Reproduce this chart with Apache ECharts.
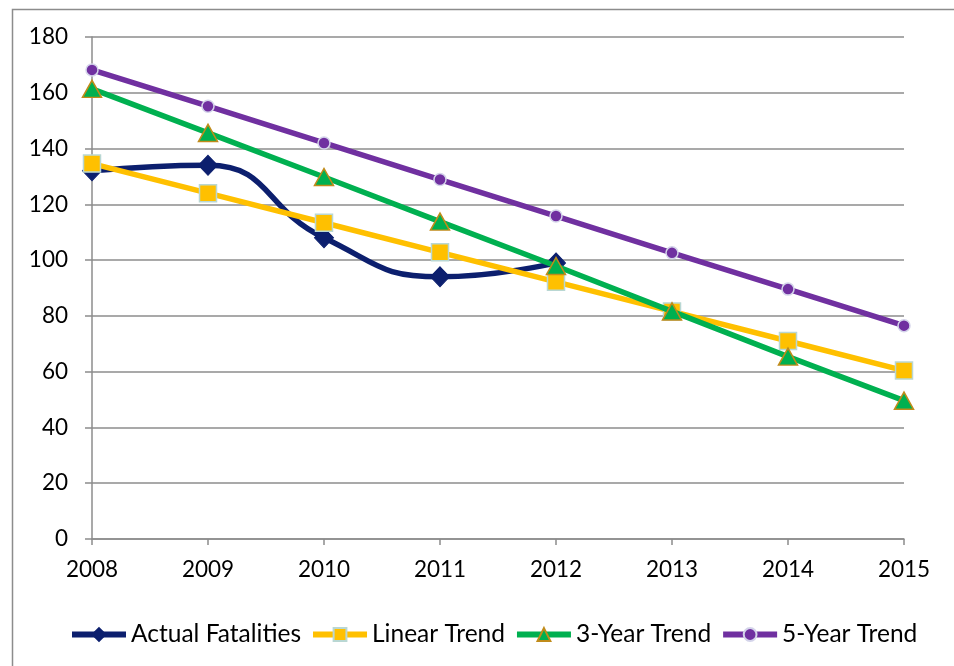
<!DOCTYPE html>
<html>
<head>
<meta charset="utf-8">
<script src="https://cdn.jsdelivr.net/npm/echarts@6/dist/echarts.min.js"></script>
<style>
  html, body { margin: 0; padding: 0; background: #fff; }
  #chart { width: 954px; height: 666px; }
</style>
</head>
<body>
<div id="chart"></div>
<script>
// Traffic fatalities, actual counts and projected trends
const years = ['2008', '2009', '2010', '2011', '2012', '2013', '2014', '2015'];
const actualFatalities = [132, 134, 108, 94, 99];
const linearTrend = [134.6, 124, 113.4, 102.8, 92.2, 81.6, 71, 60.4];
const threeYearTrend = [161.4, 145.6, 129.8, 113.8, 97.9, 81.6, 65.4, 49.6];
const fiveYearTrend = [168.2, 155.2, 142, 128.9, 115.8, 102.6, 89.6, 76.5];
const yTicks = { min: 0, max: 180, step: 20 };

const FONT = 'Lato, "Open Sans", sans-serif';
const chart = echarts.init(document.getElementById('chart'));

chart.setOption({
  animation: false,
  backgroundColor: '#ffffff',
  textStyle: { fontFamily: FONT },
  graphic: [{
    type: 'rect',
    left: 10, top: 7,
    shape: { width: 960, height: 680 },
    style: { fill: 'none', stroke: '#8c8c8c', lineWidth: 1.5 },
    silent: true
  }],
  grid: { left: 92, right: 50, top: 37, bottom: 127, containLabel: false },
  legend: {
    bottom: 14,
    left: 64,
    itemWidth: 54,
    itemHeight: 16,
    itemGap: 9,
    lineStyle: { width: 6 },
    textStyle: { fontFamily: FONT, fontSize: 24.5, color: '#000' },
    data: ['Actual Fatalities', 'Linear Trend', '3-Year Trend', '5-Year Trend']
  },
  xAxis: {
    type: 'category',
    data: years,
    boundaryGap: false,
    axisLine: { lineStyle: { color: '#8c8c8c', width: 1.5 } },
    axisTick: { show: true, length: 6, alignWithLabel: true, lineStyle: { color: '#8c8c8c', width: 1.5 } },
    axisLabel: { color: '#000', fontSize: 22.5, fontFamily: FONT, margin: 19 },
    splitLine: { show: false }
  },
  yAxis: {
    type: 'value',
    min: yTicks.min, max: yTicks.max, interval: yTicks.step,
    axisLine: { show: true, lineStyle: { color: '#8c8c8c', width: 1.5 } },
    axisTick: { show: true, length: 7, lineStyle: { color: '#8c8c8c', width: 1.5 } },
    axisLabel: { color: '#000', fontSize: 22.5, fontFamily: FONT, margin: 24 },
    splitLine: { show: true, lineStyle: { color: '#8c8c8c', width: 1.5 } }
  },
  series: [
    {
      name: 'Actual Fatalities',
      type: 'line',
      data: actualFatalities,
      smooth: 0.5,
      symbol: 'diamond',
      symbolSize: [19, 20],
      lineStyle: { color: '#0c1f6e', width: 5.5 },
      itemStyle: { color: '#0c1f6e', borderColor: '#0c1f6e', borderWidth: 1 },
      z: 2
    },
    {
      name: 'Linear Trend',
      type: 'line',
      data: linearTrend,
      symbol: 'rect',
      symbolSize: 17,
      lineStyle: { color: '#ffc000', width: 5.5 },
      itemStyle: { color: '#ffc000', borderColor: '#b9d7d3', borderWidth: 1.5 },
      z: 3
    },
    {
      name: '3-Year Trend',
      type: 'line',
      data: threeYearTrend,
      symbol: 'triangle',
      symbolSize: [19, 17],
      lineStyle: { color: '#00b050', width: 5.5 },
      itemStyle: { color: '#00b050', borderColor: '#c08b1a', borderWidth: 1.5 },
      z: 4
    },
    {
      name: '5-Year Trend',
      type: 'line',
      data: fiveYearTrend,
      symbol: 'circle',
      symbolSize: 12,
      lineStyle: { color: '#7030a0', width: 5.5 },
      itemStyle: { color: '#7030a0', borderColor: '#d4d4ea', borderWidth: 1.5 },
      z: 5
    }
  ]
});
</script>
</body>
</html>
